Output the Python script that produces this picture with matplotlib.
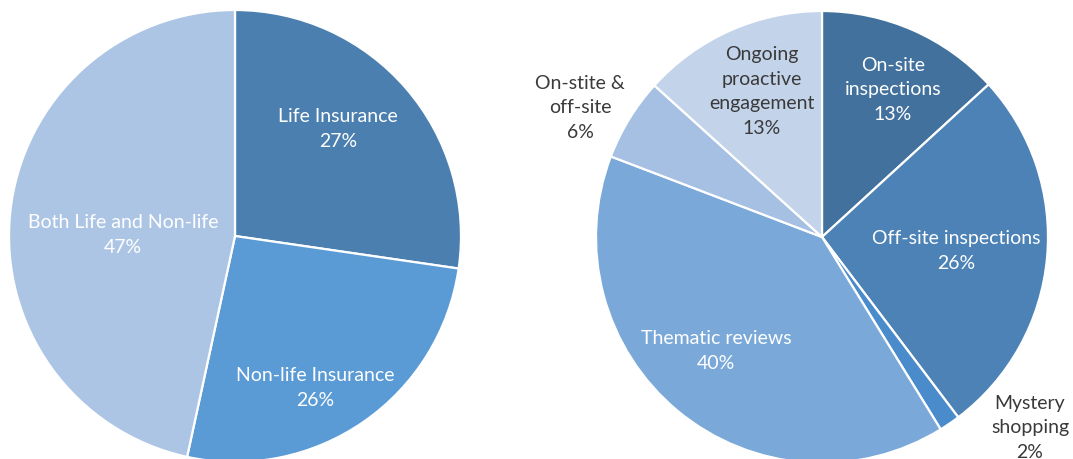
import matplotlib.pyplot as plt

plt.rcParams['font.family'] = ['Lato', 'DejaVu Sans']

# left pie: insurers by type
left_labels = ['Life Insurance', 'Non-life Insurance', 'Both Life and Non-life']
left_values = [27.3, 26.1, 46.6]
left_colors = ['#4a7fb0', '#5b9bd5', '#adc5e4']

# right pie: supervisory activities
right_labels = ['On-site\ninspections', 'Off-site inspections', 'Mystery\nshopping',
                'Thematic reviews', 'On-stite &\noff-site', 'Ongoing\nproactive\nengagement']
right_values = [13.2, 26.5, 1.5, 39.6, 5.9, 13.3]
right_colors = ['#41719c', '#4c82b5', '#4a8ccb', '#7aa9d9', '#a5c0e2', '#c3d4ea']

W, H = 1073, 459

# label anchor points in pixels (x, y of the last line, measured from top)
left_pos = [(338, 140), (315, 399), (123, 246)]
right_pos = [(893, 113), (956, 262), (1030, 451), (716, 362), (580, 131), (762, 127)]
right_text_colors = ['white', 'white', '#3a3a3a', 'white', '#3a3a3a', '#3a3a3a']

fig = plt.figure(figsize=(W / 100, H / 100), dpi=100)
ax = fig.add_axes([0, 0, 1, 1])


def draw(values, colors, center, labels, pos, text_colors):
    ax.pie(values, colors=colors, startangle=90, counterclock=False,
           center=center, radius=226,
           wedgeprops=dict(edgecolor='white', linewidth=1.6))
    for lab, v, (px, py), tc in zip(labels, values, pos, text_colors):
        txt = f'{lab}\n{v:.0f}%'
        ax.text(px, H - py - 10, txt, ha='center', va='bottom', color=tc,
                fontsize=14, fontweight='normal', linespacing=1.55)


draw(left_values, left_colors, (235, H - 236), left_labels, left_pos, ['white'] * 3)
draw(right_values, right_colors, (822, H - 237), right_labels, right_pos, right_text_colors)

ax.set_xlim(0, W)
ax.set_ylim(0, H)
ax.set_aspect('equal')
ax.axis('off')

fig.savefig('out.png', dpi=100, facecolor='white')
